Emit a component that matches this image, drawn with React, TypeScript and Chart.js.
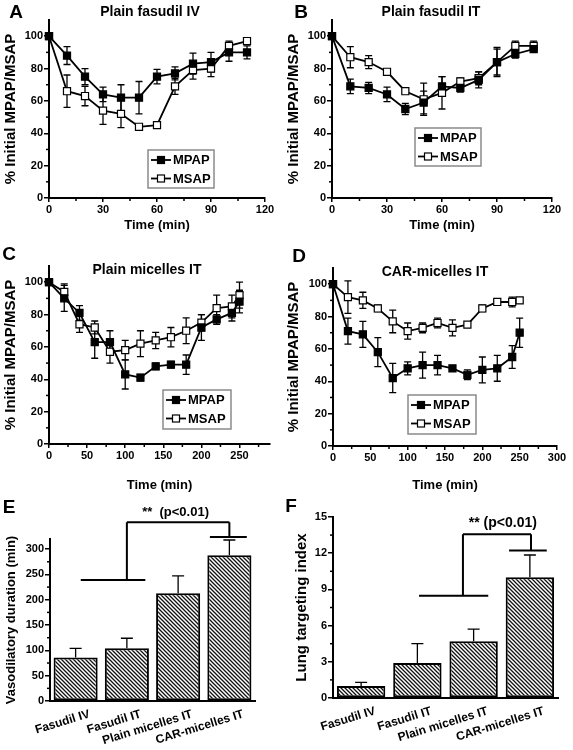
import React, { useEffect, useRef } from "react";
import { Chart, registerables } from "chart.js";

Chart.register(...registerables);

const FONT = "'Liberation Sans', Arial, Helvetica, sans-serif";
Chart.defaults.font.family = FONT;
Chart.defaults.font.weight = "bold" as any;
Chart.defaults.color = "#000";

// ---------- Data: line panels ----------
const timeAB = [0, 10, 20, 30, 40, 50, 60, 70, 80, 90, 100, 110];
const timeCD = [0, 20, 40, 60, 80, 100, 120, 140, 160, 180, 200, 220, 240, 250];

// A: Plain fasudil IV
const mpapA = [100, 88, 75, 64, 62, 62, 75, 77, 83, 84, 90, 90];
const mpapSdA = [0, 5.5, 5, 4.5, 8, 10, 4.5, 4, 6.5, 6, 5.5, 4];
const msapA = [100, 66, 63, 54, 52, 44, 45, 69, 79, 80, 94, 97];
const msapSdA = [0, 10, 6, 8.5, 8.5, 1, 1.5, 5, 5.5, 5, 3, 1];

// B: Plain fasudil IT
const mpapB = [100, 69, 68, 64, 55, 59, 69, 68, 73, 84, 89, 92];
const mpapSdB = [0, 4.5, 3.5, 4.5, 3.5, 7, 6, 2.5, 5, 8, 2.5, 2];
const msapB = [100, 87, 84, 78, 66, 61, 65, 72, 74, 84, 94, 94];
const msapSdB = [0, 6.5, 4, 1, 1, 10, 10, 2, 4, 9, 3, 3];

// C: Plain micelles IT
const mpapC = [100, 90, 81, 63, 63, 43, 41, 48, 49, 49, 72, 77, 81, 88];
const mpapSdC = [0, 8, 4.5, 10, 7, 9, 2, 2, 2, 6, 8, 3, 5, 7];
const msapC = [100, 94, 74, 72, 57, 58, 62, 64, 66, 70, 75, 84, 85, 92];
const msapSdC = [0, 5, 5, 4, 7, 6, 8, 5, 6, 8, 5, 8, 7, 8];

// D: CAR-micelles IT
const mpapD = [100, 71, 69, 58, 42, 48, 50, 50, 48, 44, 47, 48, 55, 70];
const mpapSdD = [0, 8, 8, 9, 9, 4, 8, 6, 1.5, 3, 8, 8, 7, 9];
const msapD = [100, 92, 90, 85, 77, 71, 73, 76, 73, 75, 85, 89, 89, 90];
const msapSdD = [0, 10, 5, 2, 7, 5, 3, 3, 5, 1, 2, 1, 3, 1.5];

// ---------- Data: bar panels ----------
const groups = ["Fasudil IV", "Fasudil IT", "Plain micelles IT", "CAR-micelles IT"];
const durationE = [86, 104, 213, 288];
const durationSdE = [18, 20, 34, 30];
const ltiF = [1.0, 2.9, 4.7, 10.0];
const ltiSdF = [0.3, 1.6, 1.0, 1.85];

// significance brackets: [x1, y1, x2, y2] in (category index, value)
const bracketE = [
  [0.1, 239, 1.36, 239],
  [1, 239, 1, 353],
  [1, 353, 3, 353],
  [3, 353, 3, 324],
  [2.62, 324, 3.34, 324],
];
const sigE = { text: "**  (p<0.01)", x: 1.95, y: 372 };
const bracketF = [
  [1.03, 8.47, 2.26, 8.47],
  [1.81, 8.47, 1.81, 13.57],
  [1.81, 13.57, 3.02, 13.57],
  [3.02, 13.57, 3.02, 12.22],
  [2.63, 12.22, 3.3, 12.22],
];
const sigF = { text: "** (p<0.01)", x: 2.52, y: 14.5 };

// ---------- helpers ----------
const valOf = (d: any) => (typeof d === "number" ? d : d.y);

function makeHatch(): CanvasPattern | string {
  const c = document.createElement("canvas");
  c.width = 4;
  c.height = 4;
  const g = c.getContext("2d");
  if (!g) return "#888";
  g.fillStyle = "#fff";
  g.fillRect(0, 0, 4, 4);
  g.strokeStyle = "#111";
  g.lineWidth = 1.3;
  g.beginPath();
  g.moveTo(-1, -1);
  g.lineTo(5, 5);
  g.moveTo(-1, 3);
  g.lineTo(1, 5);
  g.moveTo(3, -1);
  g.lineTo(5, 1);
  g.stroke();
  return g.createPattern(c, "repeat") || "#888";
}

interface DecorOpts {
  letter: string;
  letterPos: [number, number];
  title?: string;
  titlePos?: [number, number];
  errs: number[][];
  upOnly: boolean;
  cap: number;
  minorX?: [number, number];
  minorY?: [number, number];
  legendBox?: [number, number, number, number];
  brackets?: number[][];
  sig?: { text: string; x: number; y: number };
  sigSize?: number;
}

function decorPlugin(o: DecorOpts) {
  const drawErr = (chart: any) => {
    const ctx = chart.ctx;
    const ys = chart.scales.y;
    ctx.save();
    ctx.strokeStyle = "#000";
    ctx.lineWidth = 1.3;
    o.errs.forEach((arr, di) => {
      const meta = chart.getDatasetMeta(di);
      const ds = chart.data.datasets[di];
      meta.data.forEach((el: any, j: number) => {
        const e = arr[j];
        if (!e) return;
        const v = valOf(ds.data[j]);
        const yTop = ys.getPixelForValue(v + e);
        const yBot = o.upOnly ? ys.getPixelForValue(v) : ys.getPixelForValue(v - e);
        const x = el.x;
        ctx.beginPath();
        ctx.moveTo(x, yTop);
        ctx.lineTo(x, yBot);
        ctx.moveTo(x - o.cap, yTop);
        ctx.lineTo(x + o.cap, yTop);
        if (!o.upOnly) {
          ctx.moveTo(x - o.cap, yBot);
          ctx.lineTo(x + o.cap, yBot);
        }
        ctx.stroke();
      });
    });
    ctx.restore();
  };
  return {
    id: "decor",
    beforeDatasetsDraw(chart: any) {
      if (!o.upOnly) drawErr(chart);
    },
    afterDatasetsDraw(chart: any) {
      if (o.upOnly) drawErr(chart);
    },
    afterDraw(chart: any) {
      const ctx = chart.ctx;
      const ca = chart.chartArea;
      ctx.save();
      ctx.strokeStyle = "#000";
      ctx.lineWidth = 1.5;
      // minor ticks
      if (o.minorY) {
        const ys = chart.scales.y;
        const [mn, mj] = o.minorY;
        for (let v = ys.min + mn; v < ys.max - 1e-6; v += mn) {
          if (Math.abs(v / mj - Math.round(v / mj)) < 1e-6) continue;
          const y = ys.getPixelForValue(v);
          ctx.beginPath();
          ctx.moveTo(ca.left - 3, y);
          ctx.lineTo(ca.left, y);
          ctx.stroke();
        }
      }
      if (o.minorX) {
        const xs = chart.scales.x;
        const [mn, mj] = o.minorX;
        for (let v = xs.min + mn; v < xs.max - 1e-6; v += mn) {
          if (Math.abs(v / mj - Math.round(v / mj)) < 1e-6) continue;
          const x = xs.getPixelForValue(v);
          ctx.beginPath();
          ctx.moveTo(x, ca.bottom);
          ctx.lineTo(x, ca.bottom + 3);
          ctx.stroke();
        }
      }
      // legend box
      if (o.legendBox) {
        const [bx, by, bw, bh] = o.legendBox;
        ctx.fillStyle = "#fff";
        ctx.fillRect(bx, by, bw, bh);
        ctx.strokeStyle = "#8a8a8a";
        ctx.lineWidth = 1.5;
        ctx.strokeRect(bx, by, bw, bh);
        chart.data.datasets.forEach((ds: any, i: number) => {
          const y = by + 10 + i * 18.5;
          ctx.strokeStyle = "#000";
          ctx.lineWidth = 1.8;
          ctx.beginPath();
          ctx.moveTo(bx + 3, y);
          ctx.lineTo(bx + 23, y);
          ctx.stroke();
          ctx.fillStyle = ds.pointBackgroundColor;
          ctx.lineWidth = 1.2;
          ctx.fillRect(bx + 9.5, y - 3.5, 7, 7);
          ctx.strokeRect(bx + 9.5, y - 3.5, 7, 7);
          ctx.fillStyle = "#000";
          ctx.font = `bold 13px ${FONT}`;
          ctx.textAlign = "left";
          ctx.textBaseline = "middle";
          ctx.fillText(ds.label, bx + 25, y + 0.5);
        });
      }
      // brackets
      if (o.brackets) {
        const xs = chart.scales.x;
        const ys = chart.scales.y;
        ctx.strokeStyle = "#000";
        ctx.lineWidth = 2;
        ctx.beginPath();
        o.brackets.forEach(([x1, y1, x2, y2]) => {
          ctx.moveTo(xs.getPixelForValue(x1), ys.getPixelForValue(y1));
          ctx.lineTo(xs.getPixelForValue(x2), ys.getPixelForValue(y2));
        });
        ctx.stroke();
      }
      if (o.sig) {
        const xs = chart.scales.x;
        const ys = chart.scales.y;
        ctx.fillStyle = "#000";
        ctx.font = `bold ${o.sigSize || 13}px ${FONT}`;
        ctx.textAlign = "center";
        ctx.textBaseline = "middle";
        ctx.fillText(o.sig.text, xs.getPixelForValue(o.sig.x), ys.getPixelForValue(o.sig.y));
      }
      // panel letter + title
      ctx.fillStyle = "#000";
      ctx.textAlign = "center";
      ctx.textBaseline = "middle";
      ctx.font = `bold 19px ${FONT}`;
      ctx.fillText(o.letter, o.letterPos[0], o.letterPos[1]);
      if (o.title && o.titlePos) {
        ctx.font = `bold 14px ${FONT}`;
        ctx.fillText(o.title, o.titlePos[0], o.titlePos[1]);
      }
      ctx.restore();
    },
  };
}

interface LineSpec {
  letter: string;
  letterPos: [number, number];
  title: string;
  titlePos: [number, number];
  times: number[];
  mpap: number[];
  mpapSd: number[];
  msap: number[];
  msapSd: number[];
  xMax: number;
  xStep: number;
  xMinor: number;
  legendBox: [number, number, number, number];
  pad: { left: number; top: number; right: number; bottom: number };
  yWidth: number;
  xHeight: number;
}

function linePanel(s: LineSpec) {
  const pts = (vals: number[]) => s.times.map((t, i) => ({ x: t, y: vals[i] }));
  const common = {
    borderColor: "#000",
    borderWidth: 1.8,
    pointStyle: "rect",
    pointRadius: 5,
    pointHoverRadius: 5,
    pointBorderColor: "#000",
    pointBorderWidth: 1.2,
    fill: false,
    tension: 0,
    clip: false,
  };
  return {
    type: "line",
    data: {
      datasets: [
        { ...common, label: "MPAP", data: pts(s.mpap), pointBackgroundColor: "#000" },
        { ...common, label: "MSAP", data: pts(s.msap), pointBackgroundColor: "#fff" },
      ],
    },
    options: {
      responsive: false,
      animation: false,
      devicePixelRatio: 1,
      events: [],
      layout: { autoPadding: false, padding: s.pad },
      plugins: { legend: { display: false }, tooltip: { enabled: false }, title: { display: false } },
      scales: {
        x: {
          type: "linear",
          min: 0,
          max: s.xMax,
          afterFit: (sc: any) => {
            sc.height = s.xHeight;
          },
          ticks: { stepSize: s.xStep, includeBounds: false, maxRotation: 0, padding: 1, font: { size: 11, weight: "bold" } },
          grid: { drawOnChartArea: false, tickLength: 4, color: "#000", lineWidth: 1.5 },
          border: { color: "#000", width: 2 },
          title: { display: true, text: "Time (min)", font: { size: 13, weight: "bold" }, padding: { top: 0, bottom: 7 } },
        },
        y: {
          type: "linear",
          min: 0,
          max: 110,
          afterFit: (sc: any) => {
            sc.width = s.yWidth;
          },
          ticks: { stepSize: 20, includeBounds: false, padding: 1, font: { size: 11, weight: "bold" } },
          grid: { drawOnChartArea: false, tickLength: 5, color: "#000", lineWidth: 1.5 },
          border: { color: "#000", width: 2 },
          title: { display: true, text: "% Initial MPAP/MSAP", font: { size: 15, weight: "bold" }, padding: { top: 2, bottom: 0 } },
        },
      },
    },
    plugins: [
      decorPlugin({
        letter: s.letter,
        letterPos: s.letterPos,
        title: s.title,
        titlePos: s.titlePos,
        errs: [s.mpapSd, s.msapSd],
        upOnly: false,
        cap: 3.5,
        minorX: [s.xMinor, s.xStep],
        minorY: [10, 20],
        legendBox: s.legendBox,
      }),
    ],
  };
}

interface BarSpec {
  letter: string;
  letterPos: [number, number];
  label: string;
  values: number[];
  sd: number[];
  yMax: number;
  yStep: number;
  yMinor: number;
  yTitle: string;
  yTitleSize: number;
  yTitlePad: number;
  brackets: number[][];
  sig: { text: string; x: number; y: number };
  sigSize: number;
  pad: { left: number; top: number; right: number; bottom: number };
  yWidth: number;
  xHeight: number;
}

function barPanel(s: BarSpec) {
  return {
    type: "bar",
    data: {
      labels: groups,
      datasets: [
        {
          label: s.label,
          data: s.values,
          backgroundColor: makeHatch(),
          borderColor: "#000",
          borderWidth: 2,
          borderSkipped: false,
          barPercentage: 0.86,
          categoryPercentage: 1,
        },
      ],
    },
    options: {
      responsive: false,
      animation: false,
      devicePixelRatio: 1,
      events: [],
      layout: { autoPadding: false, padding: s.pad },
      plugins: { legend: { display: false }, tooltip: { enabled: false }, title: { display: false } },
      scales: {
        x: {
          afterFit: (sc: any) => {
            sc.height = s.xHeight;
          },
          ticks: {
            autoSkip: false,
            minRotation: 17,
            maxRotation: 17,
            labelOffset: 14,
            padding: 6,
            font: { size: 12, weight: "bold" },
          },
          grid: { drawOnChartArea: false, drawTicks: false, color: "#000" },
          border: { color: "#000", width: 2 },
        },
        y: {
          min: 0,
          max: s.yMax,
          afterFit: (sc: any) => {
            sc.width = s.yWidth;
          },
          ticks: { stepSize: s.yStep, includeBounds: false, padding: 1, font: { size: 11, weight: "bold" } },
          grid: { drawOnChartArea: false, tickLength: 5, color: "#000", lineWidth: 1.5 },
          border: { color: "#000", width: 2 },
          title: {
            display: true,
            text: s.yTitle,
            font: { size: s.yTitleSize, weight: "bold" },
            padding: { top: s.yTitlePad, bottom: 0 },
          },
        },
      },
    },
    plugins: [
      decorPlugin({
        letter: s.letter,
        letterPos: s.letterPos,
        errs: [s.sd],
        upOnly: true,
        cap: 6,
        minorY: [s.yMinor, s.yStep],
        brackets: s.brackets,
        sig: s.sig,
        sigSize: s.sigSize,
      }),
    ],
  };
}

interface PanelDef {
  key: string;
  left: number;
  top: number;
  width: number;
  height: number;
  make: () => any;
}

const PANELS: PanelDef[] = [
  {
    key: "A",
    left: 0,
    top: 0,
    width: 283,
    height: 240,
    make: () =>
      linePanel({
        letter: "A",
        letterPos: [16, 13],
        title: "Plain fasudil IV",
        titlePos: [150, 12],
        times: timeAB,
        mpap: mpapA,
        mpapSd: mpapSdA,
        msap: msapA,
        msapSd: msapSdA,
        xMax: 120,
        xStep: 30,
        xMinor: 15,
        legendBox: [148, 150, 66, 38],
        pad: { left: 0, top: 20, right: 18, bottom: 0 },
        yWidth: 49,
        xHeight: 42,
      }),
  },
  {
    key: "B",
    left: 283,
    top: 0,
    width: 290,
    height: 240,
    make: () =>
      linePanel({
        letter: "B",
        letterPos: [18, 13],
        title: "Plain fasudil IT",
        titlePos: [148, 12],
        times: timeAB,
        mpap: mpapB,
        mpapSd: mpapSdB,
        msap: msapB,
        msapSd: msapSdB,
        xMax: 120,
        xStep: 30,
        xMinor: 15,
        legendBox: [132, 128, 66, 38],
        pad: { left: 0, top: 20, right: 21, bottom: 0 },
        yWidth: 49,
        xHeight: 42,
      }),
  },
  {
    key: "C",
    left: 0,
    top: 240,
    width: 283,
    height: 260,
    make: () =>
      linePanel({
        letter: "C",
        letterPos: [9, 15],
        title: "Plain micelles IT",
        titlePos: [147, 30],
        times: timeCD,
        mpap: mpapC,
        mpapSd: mpapSdC,
        msap: msapC,
        msapSd: msapSdC,
        xMax: 290,
        xStep: 50,
        xMinor: 25,
        legendBox: [163, 150, 68, 39],
        pad: { left: 0, top: 26, right: 13, bottom: 0 },
        yWidth: 49,
        xHeight: 56,
      }),
  },
  {
    key: "D",
    left: 283,
    top: 240,
    width: 290,
    height: 260,
    make: () =>
      linePanel({
        letter: "D",
        letterPos: [16, 17],
        title: "CAR-micelles IT",
        titlePos: [152, 32],
        times: timeCD,
        mpap: mpapD,
        mpapSd: mpapSdD,
        msap: msapD,
        msapSd: msapSdD,
        xMax: 300,
        xStep: 50,
        xMinor: 25,
        legendBox: [125, 155, 68, 39],
        pad: { left: 0, top: 28, right: 16, bottom: 0 },
        yWidth: 50,
        xHeight: 54,
      }),
  },
  {
    key: "E",
    left: 0,
    top: 470,
    width: 283,
    height: 280,
    make: () =>
      barPanel({
        letter: "E",
        letterPos: [9, 38],
        label: "Vasodilatory duration",
        values: durationE,
        sd: durationSdE,
        yMax: 320,
        yStep: 50,
        yMinor: 25,
        yTitle: "Vasodilatory duration (min)",
        yTitleSize: 13,
        yTitlePad: 4,
        brackets: bracketE,
        sig: sigE,
        sigSize: 13,
        pad: { left: 0, top: 69, right: 28, bottom: 0 },
        yWidth: 50,
        xHeight: 49,
      }),
  },
  {
    key: "F",
    left: 283,
    top: 470,
    width: 290,
    height: 280,
    make: () =>
      barPanel({
        letter: "F",
        letterPos: [8, 37],
        label: "Lung targeting index",
        values: ltiF,
        sd: ltiSdF,
        yMax: 15,
        yStep: 3,
        yMinor: 1.5,
        yTitle: "Lung targeting index",
        yTitleSize: 15,
        yTitlePad: 10,
        brackets: bracketF,
        sig: sigF,
        sigSize: 14,
        pad: { left: 0, top: 47, right: 15, bottom: 0 },
        yWidth: 50,
        xHeight: 52,
      }),
  },
];

function ChartCanvas({ left, top, width, height, make }: PanelDef) {
  const ref = useRef<HTMLCanvasElement>(null);
  useEffect(() => {
    if (!ref.current) return;
    const chart = new Chart(ref.current, make());
    return () => chart.destroy();
  }, []);
  return (
    <canvas
      ref={ref}
      width={width}
      height={height}
      style={{ position: "absolute", left, top, width, height, display: "block" }}
    />
  );
}

export default function App() {
  return (
    <div style={{ position: "absolute", left: 0, top: 0, width: 573, height: 750, background: "#fff" }}>
      {PANELS.map((p) => (
        <ChartCanvas key={p.key} {...p} />
      ))}
    </div>
  );
}
